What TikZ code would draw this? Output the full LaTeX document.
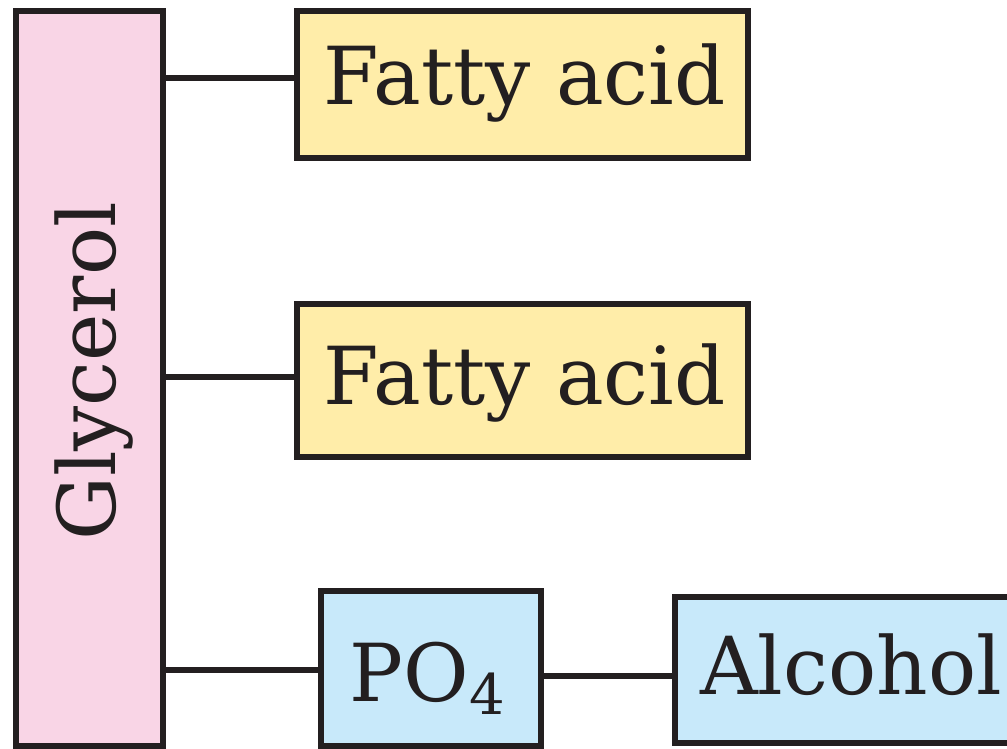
\documentclass[tikz,border=0pt]{standalone}
\usepackage{fontspec}
\setmainfont{DejaVu Serif}
\definecolor{ink}{HTML}{231F20}
\definecolor{glyfill}{HTML}{F9D5E6}
\definecolor{fafill}{HTML}{FFEDA9}
\definecolor{pofill}{HTML}{C8E9FA}
\newcommand{\subfour}{\raisebox{-13pt}{\fontsize{56}{56}\selectfont 4}}
\begin{document}
\begin{tikzpicture}[x=1pt,y=1pt,
  part/.style={draw=ink,line width=6pt,inner sep=0pt,outer sep=0pt,rectangle},
  bond/.style={draw=ink,line width=6pt},
  word/.style={text=ink,inner sep=0pt,anchor=base,font=\fontsize{80}{80}\selectfont}]
\useasboundingbox (0,0) rectangle (1007,749);
\clip (0,0) rectangle (1007,749);

% glycerol backbone
\node[part,fill=glyfill,minimum width=147pt,minimum height=735.5pt] (gly) at (89.5,370.25) {};
\node[word,rotate=90,font=\fontsize{80}{80}\selectfont] (glytext) at (115,377.5) {Glycerol};

% fatty acid chains
\node[part,fill=fafill,minimum width=451pt,minimum height=147pt] (fa1) at (522.5,664.5) {};
\node[word] (fa1text) at (524.5,644) {Fatty acid};
\node[part,fill=fafill,minimum width=451pt,minimum height=153pt] (fa2) at (522.5,368.5) {};
\node[word] (fa2text) at (524.5,344) {Fatty acid};

% phosphate group and alcohol
\node[part,fill=pofill,minimum width=220pt,minimum height=155.5pt] (po) at (431,80.25) {};
\node[word] (potext) at (427.5,47) {PO\subfour};
\node[part,fill=pofill,minimum width=352pt,minimum height=146pt] (alc) at (851,79) {};
\node[word] (alctext) at (851,54) {Alcohol};

% bonds
\draw[bond] ([yshift=6.5pt]fa1.west -| gly.east) -- ([yshift=6.5pt]fa1.west);
\draw[bond] ([yshift=3.5pt]fa2.west -| gly.east) -- ([yshift=3.5pt]fa2.west);
\draw[bond] ([yshift=-1.25pt]po.west -| gly.east) -- ([yshift=-1.25pt]po.west);
\draw[bond] ([yshift=-6pt]alc.west -| po.east) -- ([yshift=-6pt]alc.west);
\end{tikzpicture}
\end{document}
